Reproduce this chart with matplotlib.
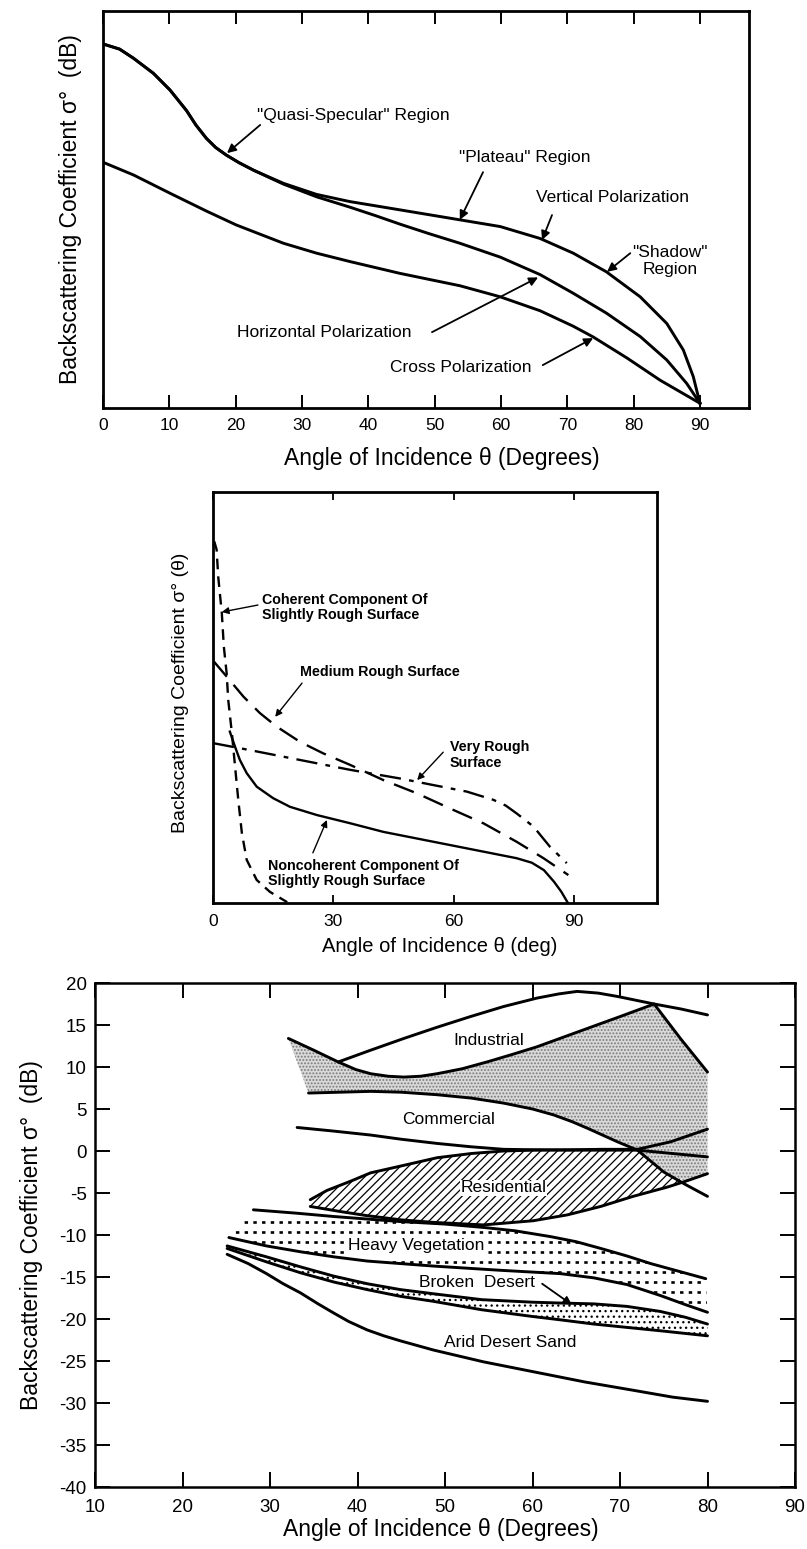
import matplotlib
matplotlib.use('Agg')
import matplotlib.pyplot as plt
from matplotlib.patches import Polygon
import numpy as np

plt.rcParams['font.family'] = ['Liberation Sans', 'DejaVu Sans']
plt.rcParams['hatch.linewidth'] = 0.9

# ---------------- top panel: polarization curves (relative dB, 0..100) ----------------
vert_x = [0, 2.5, 4.6, 7.6, 10.1, 12.6, 14, 15.6, 17, 18.6, 20.5, 22.7, 25, 27.2, 32.2, 37.2,
          44.8, 53.8, 59.9, 65.9, 70.9, 75.9, 81, 85, 87.5, 89, 90]
vert_y = [91.7, 90.4, 88.1, 84.3, 80.1, 74.9, 71.3, 67.9, 65.6, 63.7, 61.8, 59.9, 58.2, 56.6,
          53.8, 52.0, 49.9, 47.4, 45.7, 42.7, 39.0, 34.3, 28.0, 21.3, 14.6, 7.9, 1.2]
horiz_x = [0, 2.5, 4.6, 7.6, 10.1, 12.6, 14, 15.6, 17, 18.6, 20.5, 22.7, 25, 27.2, 32.2, 37.2,
           41, 44.8, 49, 53.8, 59.9, 65.9, 70.9, 75.9, 81, 85, 88, 90]
horiz_y = [91.7, 90.4, 88.1, 84.3, 80.1, 74.9, 71.3, 67.9, 65.6, 63.7, 61.8, 59.9, 58.1, 56.4,
           53.2, 50.6, 48.5, 46.3, 44.0, 41.5, 38.0, 33.6, 28.9, 23.9, 18.0, 12.1, 6.2, 1.2]
cross_x = [0, 4.6, 10.1, 15.6, 20.1, 27.2, 32.2, 37.2, 44.8, 53.8, 59.9, 65.9, 70.9, 73.9,
           79, 84, 90]
cross_y = [61.9, 58.7, 54.1, 49.6, 46.1, 41.5, 39.0, 36.9, 33.9, 30.8, 28.0, 24.5, 20.6, 17.9,
           12.6, 7.0, 1.2]
top_ticks = [0, 10, 20, 30, 40, 50, 60, 70, 80, 90]

# ---------------- middle panel: roughness curves (relative, 0..100) ----------------
coh_x = [0.3, 0.9, 1.3, 2.2, 2.7, 3.4, 3.8, 4.7, 5.5, 6.3, 7.2, 8.4, 10.9, 14.2, 18.5]
coh_y = [88, 86, 79.4, 70.5, 62.4, 55.9, 49.4, 41.4, 33.2, 25.1, 17.0, 10.5, 5.6, 2.7, 0.2]
med_x = [0, 3.4, 7.6, 11.7, 15.9, 21.7, 27.5, 34.2, 42.5, 50.8, 59.1, 67.4, 75.7, 82.4, 88.6]
med_y = [59.0, 55.1, 50.2, 46.2, 42.9, 39.2, 36.4, 33.6, 29.9, 26.7, 23.0, 19.4, 14.9, 10.9, 6.8]
vrough_x = [0, 9.2, 21.7, 34.2, 46.6, 54.9, 63.3, 69.9, 73, 75.7, 79.9, 84, 88.2]
vrough_y = [38.9, 37.2, 34.8, 32.4, 30.3, 28.7, 27.1, 25.1, 23.7, 21.8, 18.6, 13.7, 9.7]
noncoh_x = [4.2, 5.5, 6.7, 8.4, 10.9, 15, 19.2, 25.9, 34.2, 42.5, 50.8, 59.1, 67.4, 75.7,
            79.5, 82.5, 85, 86.8, 88.5]
noncoh_y = [41.7, 38.0, 34.8, 31.6, 28.3, 25.5, 23.4, 21.4, 19.4, 17.3, 15.7, 14.1, 12.5, 10.9,
            9.8, 8.0, 5.2, 2.8, 0.0]
mid_ticks = [0, 30, 60, 90]

# ---------------- bottom panel: terrain classes (dB) ----------------
ind_top_x = [37.8, 41.5, 45.3, 49, 52.9, 56.7, 60.5, 63, 65.1, 67.5, 69.7, 73.9, 77, 80]
ind_top_y = [10.6, 12.0, 13.4, 14.7, 16.0, 17.2, 18.2, 18.7, 19.0, 18.8, 18.4, 17.5, 16.9, 16.2]
ind_low_x = [32.1, 35, 37.8, 39.8, 41.5, 43.5, 45.3, 47.2, 49.1, 52, 54.8, 57.7, 60.5, 63.4,
             66.3, 70, 73.9, 76.9, 80]
ind_low_y = [13.4, 12.0, 10.6, 9.7, 9.2, 8.9, 8.8, 8.9, 9.2, 9.8, 10.6, 11.5, 12.4, 13.5,
             14.6, 16.0, 17.5, 13.4, 9.4]
com_up_x = [34.4, 38, 41.5, 45, 49.1, 53, 56.7, 60, 62.4, 64.5, 66.3, 68, 69.7, 72, 75, 77.5, 80]
com_up_y = [6.9, 7.0, 7.1, 7.0, 6.7, 6.3, 5.7, 5.0, 4.3, 3.5, 2.7, 1.9, 1.1, 0.1, -2.5, -4.0, -5.4]
com_low_x = [33.1, 37, 41.5, 45, 49.1, 53, 56.7, 60, 64.3, 68, 72, 76, 80]
com_low_y = [2.8, 2.4, 1.9, 1.4, 0.9, 0.5, 0.2, 0.15, 0.1, 0.1, 0.1, -0.3, -0.7]
res_up_x = [34.6, 36.5, 39.2, 41.5, 44.9, 49.1, 53, 56.7, 60, 64.3, 68, 72, 75.8, 80]
res_up_y = [-5.8, -4.7, -3.6, -2.6, -1.8, -0.8, -0.3, 0.0, 0.1, 0.15, 0.2, 0.2, 1.1, 2.6]
res_low_x = [34.6, 38, 41.1, 45, 48.7, 54.4, 60.1, 64, 67.8, 71.5, 75.4, 77.5, 80]
res_low_y = [-6.6, -7.2, -7.7, -8.2, -8.5, -8.8, -8.3, -7.6, -6.6, -5.4, -4.3, -3.6, -2.7]
veg_up_x = [28.1, 33, 37.3, 44.9, 50, 54.4, 58, 62.1, 65, 67.8, 70.8, 73.5, 77, 79.8]
veg_up_y = [-7.0, -7.4, -7.8, -8.4, -8.7, -9.1, -9.5, -10.2, -10.8, -11.6, -12.5, -13.4, -14.4,
            -15.2]
veg_low_x = [25.3, 29.6, 33.5, 37.3, 41.1, 48.7, 56.3, 63.2, 67, 70.8, 74.6, 77.5, 80]
veg_low_y = [-10.3, -11.3, -12.0, -12.6, -13.1, -13.7, -14.2, -14.6, -15.1, -15.9, -17.2, -18.3,
             -19.2]
veg_rows = [-8.4, -9.6, -10.8, -12.0, -13.2, -14.4, -15.6, -16.8, -18.0]
bd_up_x = [25.1, 29.6, 33.5, 37.3, 41.1, 44.9, 48.7, 54.2, 60, 63.2, 67, 70.8, 74.6, 77.5, 80]
bd_up_y = [-11.3, -12.6, -13.8, -14.9, -15.8, -16.5, -17.0, -17.7, -18.0, -18.1, -18.2, -18.5,
           -19.1, -19.8, -20.6]
bd_low_x = [25.1, 29.6, 33.5, 37.3, 41.1, 44.9, 48.7, 54.2, 60, 63.2, 67, 70.8, 74.6, 80]
bd_low_y = [-11.6, -13.2, -14.5, -15.6, -16.5, -17.3, -17.9, -18.9, -19.7, -20.1, -20.6, -21.0,
            -21.4, -22.0]
arid_x = [25.1, 27.5, 29.6, 31.5, 33.5, 35.5, 37.3, 39, 41.1, 43, 44.9, 48.7, 54.4, 60.2, 66,
          71.6, 76, 80]
arid_y = [-12.3, -13.4, -14.6, -15.8, -16.9, -18.2, -19.3, -20.3, -21.3, -22.0, -22.6, -23.7,
          -25.1, -26.3, -27.5, -28.5, -29.3, -29.8]
bot_xticks = [10, 20, 30, 40, 50, 60, 70, 80, 90]
bot_yticks = [20, 15, 10, 5, 0, -5, -10, -15, -20, -25, -30, -35, -40]

W, H = 807, 1549
fig = plt.figure(figsize=(W / 100, H / 100), dpi=100)


def px_axes(l, t, r, b):
    return fig.add_axes([l / W, 1 - b / H, (r - l) / W, (b - t) / H])


def arrow(ax, tail, head, lw=1.3, ms=13):
    ax.annotate('', xy=head, xytext=tail,
                arrowprops=dict(arrowstyle='-|>', color='k', lw=lw, mutation_scale=ms,
                                shrinkA=0, shrinkB=0))


def frame(ax, lw=2.0):
    for s in ax.spines.values():
        s.set_linewidth(lw)


# ---------------- top ----------------
ax1 = px_axes(103, 11, 749, 408)
frame(ax1)
for xs, ys in [(vert_x, vert_y), (horiz_x, horiz_y), (cross_x, cross_y)]:
    ax1.plot(xs, ys, 'k-', lw=2.1, solid_joinstyle='round')
ax1.set_xlim(0, 97.4)
ax1.set_ylim(0, 100)
ax1.set_xticks(top_ticks)
ax1.set_yticks([])
ax1.tick_params(axis='x', direction='in', top=True, length=9.5, width=1.4, pad=7, labelsize=12.5)
ax1.set_xlabel('Angle of Incidence θ (Degrees)', fontsize=16.5)
ax1.xaxis.set_label_coords(0.524, -0.126)
ax1.xaxis.label.set_va('center')
ax1.set_ylabel('Backscattering Coefficient σ°  (dB)', fontsize=16.5)
ax1.yaxis.set_label_coords(-0.051, 0.5)
ax1.yaxis.label.set_va('center')

fs1 = 12.5
ax1.text(37.7, 73.8, '"Quasi-Specular" Region', fontsize=fs1, ha='center', va='center')
arrow(ax1, (23.7, 71.3), (18.7, 64.2))
ax1.text(63.6, 63.2, '"Plateau" Region', fontsize=fs1, ha='center', va='center')
arrow(ax1, (57.3, 59.4), (53.8, 47.4))
ax1.text(76.8, 52.9, 'Vertical Polarization', fontsize=fs1, ha='center', va='center')
arrow(ax1, (67.7, 48.6), (66.2, 42.3))
ax1.text(85.5, 37.0, '"Shadow"\nRegion', fontsize=fs1, ha='center', va='center', linespacing=1.15)
arrow(ax1, (79.5, 39.0), (76.0, 34.3))
ax1.text(33.3, 18.9, 'Horizontal Polarization', fontsize=fs1, ha='center', va='center')
arrow(ax1, (49.6, 19.1), (65.6, 32.9))
ax1.text(54.0, 10.1, 'Cross Polarization', fontsize=fs1, ha='center', va='center')
arrow(ax1, (66.3, 10.8), (73.9, 17.6))

# ---------------- middle ----------------
ax2 = px_axes(213, 492, 657, 903)
frame(ax2)
ax2.plot(coh_x, coh_y, 'k', lw=1.7, linestyle=(0, (4.5, 3)))
ax2.plot(med_x, med_y, 'k', lw=1.7, linestyle=(0, (9, 4.5)))
ax2.plot(vrough_x, vrough_y, 'k', lw=1.7, linestyle=(0, (9, 3.5, 2, 3.5)))
ax2.plot(noncoh_x, noncoh_y, 'k-', lw=1.7, solid_joinstyle='round')
ax2.set_xlim(0, 110.7)
ax2.set_ylim(0, 100)
ax2.set_xticks(mid_ticks)
ax2.set_yticks([])
ax2.tick_params(axis='x', direction='in', top=True, length=6, width=1.3, pad=8, labelsize=12.5)
ax2.set_xlabel('Angle of Incidence θ (deg)', fontsize=14.5)
ax2.xaxis.set_label_coords(0.511, -0.107)
ax2.xaxis.label.set_va('center')
ax2.set_ylabel('Backscattering Coefficient σ° (θ)', fontsize=14)
ax2.yaxis.set_label_coords(-0.074, 0.511)
ax2.yaxis.label.set_va('center')

fs2 = 10.3
ax2.text(12.2, 72.0, 'Coherent Component Of\nSlightly Rough Surface', fontsize=fs2,
         weight='bold', ha='left', va='center', linespacing=1.1)
arrow(ax2, (11.2, 72.5), (2.2, 70.8), lw=1.0, ms=10)
ax2.text(21.7, 56.2, 'Medium Rough Surface', fontsize=fs2, weight='bold', ha='left', va='center')
arrow(ax2, (22.2, 53.5), (15.5, 45.3), lw=1.0, ms=10)
ax2.text(59.1, 36.0, 'Very Rough\nSurface', fontsize=fs2, weight='bold', ha='left',
         va='center', linespacing=1.1)
arrow(ax2, (57.4, 36.7), (50.9, 29.9), lw=1.0, ms=10)
ax2.text(13.7, 7.1, 'Noncoherent Component Of\nSlightly Rough Surface', fontsize=fs2,
         weight='bold', ha='left', va='center', linespacing=1.1)
arrow(ax2, (24.9, 12.2), (28.4, 20.2), lw=1.0, ms=10)

# ---------------- bottom ----------------
ax3 = px_axes(95, 983, 795, 1487)
frame(ax3, 1.8)

ind_low_x, ind_low_y = np.array(ind_low_x), np.array(ind_low_y)
com_up_x, com_up_y = np.array(com_up_x), np.array(com_up_y)
res_up_x, res_up_y = np.array(res_up_x), np.array(res_up_y)
res_low_x, res_low_y = np.array(res_low_x), np.array(res_low_y)

# stippled industrial/commercial band
m1 = com_up_x <= 75
m2 = res_low_x >= 77.5
sx = np.concatenate([ind_low_x, res_low_x[m2][::-1], com_up_x[m1][::-1]])
sy = np.concatenate([ind_low_y, res_low_y[m2][::-1], com_up_y[m1][::-1]])
ax3.fill(sx, sy, facecolor='#d9d9d9', edgecolor='#7a7a7a', hatch='.....', lw=0, zorder=1)

# hatched residential lens
r1 = res_up_x <= 72
r2 = (com_up_x > 72) & (com_up_x <= 75)
r3 = res_low_x <= 77.5
hx = np.concatenate([res_up_x[r1], com_up_x[r2], res_low_x[r3][::-1]])
hy = np.concatenate([res_up_y[r1], com_up_y[r2], res_low_y[r3][::-1]])
ax3.fill(hx, hy, facecolor='white', edgecolor='k', hatch='////', lw=0, zorder=1)

# heavy vegetation: dotted rows clipped to band
vx = np.concatenate([veg_up_x, veg_low_x[::-1]])
vy = np.concatenate([veg_up_y, veg_low_y[::-1]])
veg_poly = Polygon(np.column_stack([vx, vy]), closed=True, fc='none', ec='none')
ax3.add_patch(veg_poly)
for yr in veg_rows:
    ln, = ax3.plot([24, 81], [yr, yr], color='k', lw=1.9, linestyle=(0, (1.3, 2.0)), zorder=1)
    ln.set_clip_path(veg_poly)

# broken desert: sparse dots
bx = np.concatenate([bd_up_x, bd_low_x[::-1]])
by = np.concatenate([bd_up_y, bd_low_y[::-1]])
ax3.fill(bx, by, facecolor='white', edgecolor='k', hatch='...', lw=0, zorder=1)

for xs, ys in [(ind_top_x, ind_top_y), (ind_low_x, ind_low_y), (com_up_x, com_up_y),
               (com_low_x, com_low_y), (res_up_x, res_up_y), (res_low_x, res_low_y),
               (veg_up_x, veg_up_y), (veg_low_x, veg_low_y), (bd_up_x, bd_up_y),
               (bd_low_x, bd_low_y), (arid_x, arid_y)]:
    ax3.plot(xs, ys, 'k-', lw=2.1, zorder=3, solid_capstyle='round', solid_joinstyle='round')

ax3.set_xlim(10, 90)
ax3.set_ylim(-40, 20)
ax3.set_xticks(bot_xticks)
ax3.set_yticks(bot_yticks)
ax3.set_yticklabels([str(v) for v in bot_yticks])
ax3.tick_params(axis='both', direction='in', top=True, right=True, length=11, width=1.4,
                labelsize=13.5)
ax3.tick_params(axis='x', pad=9)
ax3.tick_params(axis='y', pad=6)
ax3.set_xlabel('Angle of Incidence θ (Degrees)', fontsize=16.5)
ax3.xaxis.set_label_coords(0.494, -0.085)
ax3.xaxis.label.set_va('center')
ax3.set_ylabel('Backscattering Coefficient σ°  (dB)', fontsize=16.5)
ax3.yaxis.set_label_coords(-0.09, 0.5)
ax3.yaxis.label.set_va('center')

fs3 = 12.5
wb = dict(facecolor='white', edgecolor='none', pad=0.3)
ax3.text(55.0, 13.2, 'Industrial', fontsize=fs3, ha='center', va='center', zorder=4)
ax3.text(50.4, 3.7, 'Commercial', fontsize=fs3, ha='center', va='center', zorder=4)
ax3.text(56.7, -4.4, 'Residential', fontsize=fs3, ha='center', va='center', bbox=wb, zorder=4)
ax3.text(46.7, -11.3, 'Heavy Vegetation', fontsize=fs3, ha='center', va='center', bbox=wb,
         zorder=4)
ax3.text(53.6, -15.6, 'Broken  Desert', fontsize=fs3, ha='center', va='center', zorder=4)
arrow(ax3, (61.1, -15.8), (64.5, -18.3), lw=1.3, ms=12)
ax3.text(57.4, -22.8, 'Arid Desert Sand', fontsize=fs3, ha='center', va='center', zorder=4)

fig.savefig('out.png', dpi=100)
